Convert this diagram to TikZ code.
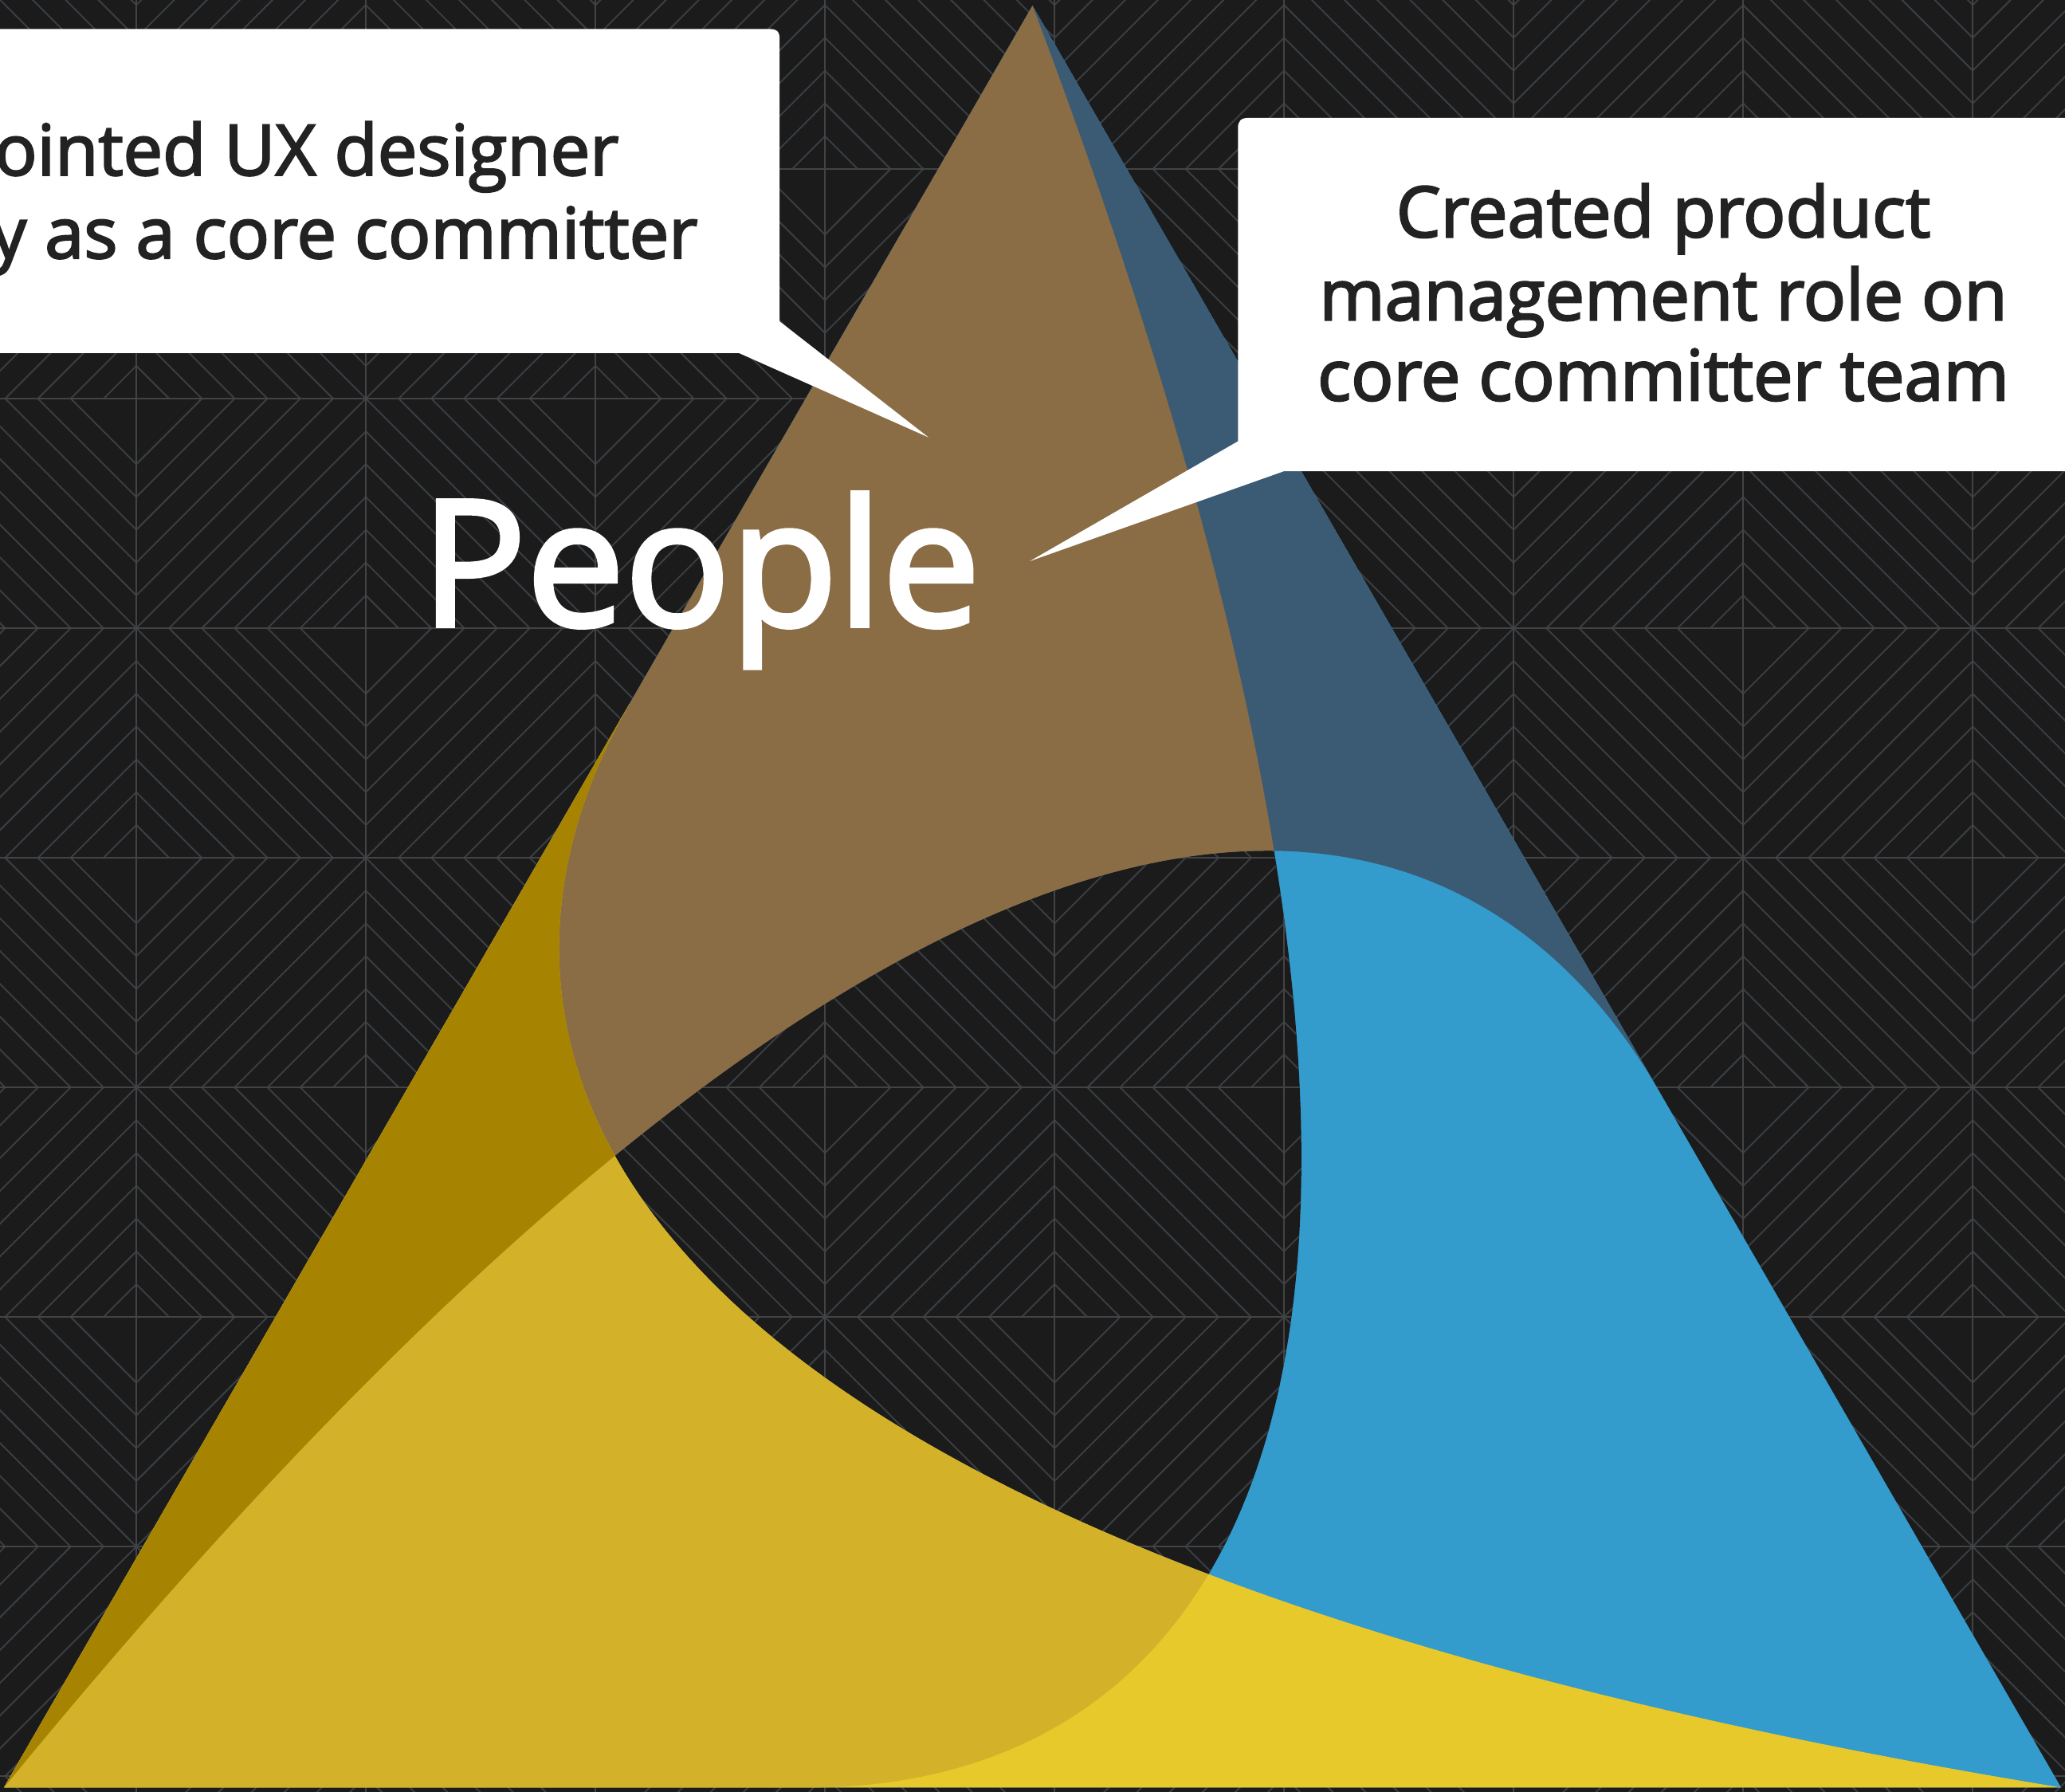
\documentclass[tikz,border=0pt]{standalone}
\usepackage{fontspec}
\setmainfont{Open Sans}
\newfontfamily\sbfont{Open Sans}[FakeBold=2.6]
\definecolor{bgc}{HTML}{1B1B1B}
\definecolor{gridc}{HTML}{434343}
\definecolor{diagc}{HTML}{393E43}
\definecolor{brownc}{HTML}{8A6C45}
\definecolor{dblue}{HTML}{3B5A73}
\definecolor{bluec}{HTML}{349BCD}
\definecolor{byel}{HTML}{E8C92B}
\definecolor{myel}{HTML}{D3B22A}
\definecolor{dgold}{HTML}{A68301}
\definecolor{textc}{HTML}{222222}
\newcommand\gL{(784,4.3) .. controls (1198,1100) and (900,1357) .. (615,1357) -- (3,1357) -- cycle}
\newcommand\gR{(784,4.3) .. controls (1198,1100) and (900,1357) .. (615,1357) -- (1565,1357) -- cycle}
\newcommand\tri{(784,4.3) -- (3,1357) -- (1565,1357) -- cycle}
\newcommand\bgpattern{%
  \fill[bgc] (-5,-5) rectangle (1573,1365);
  \foreach \i in {-1,...,8}{\foreach \j in {-1,...,7}{%
    \pgfmathsetmacro\xo{103.5+174.3*\i}%
    \pgfmathsetmacro\yo{128.3+174.3*\j}%
    \pgfmathtruncatemacro\pty{mod(\i+\j+10,2)}%
    \begin{scope}
      \clip (\xo,\yo) rectangle ++(174.3,174.3);
      \ifnum\pty=1
        \foreach \k in {2,...,13}{\draw[diag] ({\xo+\k*24.9-300},{\yo+300}) -- ({\xo+\k*24.9+300},{\yo-300});}
      \else
        \foreach \k in {1,...,12}{\draw[diag] ({\xo+\k*24.9-174.3-300},{\yo-300}) -- ({\xo+\k*24.9-174.3+300},{\yo+300});}
      \fi
    \end{scope}
  }}%
  \foreach \i in {-1,...,8}{\draw[gridl] ({103.5+174.3*\i},-5) -- ++(0,1370);}%
  \foreach \j in {-1,...,7}{\draw[gridl] (-5,{128.3+174.3*\j}) -- ++(1578,0);}%
}
\begin{document}
\begin{tikzpicture}[x=1pt,y=-1pt,
  diag/.style={draw=diagc,line width=1.2pt},
  gridl/.style={draw=gridc,line width=1.3pt},
  rA/.style={rotate around={120:(784,906.1)}},
  rB/.style={rotate around={240:(784,906.1)}},
  ctext/.style={font=\sbfont\fontsize{53.5}{62}\selectfont,text=textc,inner sep=0pt},
  callout/.style={fill=white}]
\useasboundingbox (0,0) rectangle (1568,1360);
\begin{scope}
  \clip (0,0) rectangle (1568,1360);
  \bgpattern
  % colours right of gamma, painted over the whole triangle
  \fill[bluec] \tri;
  \begin{scope}\clip[rA] \gR; \fill[dblue] \tri; \end{scope}
  \begin{scope}\clip[rB] \gR; \fill[byel] \tri; \end{scope}
  % colours left of gamma
  \begin{scope}
    \clip \gL;
    \begin{scope}\clip[rA] \gL; \clip[rB] \gL; \bgpattern \end{scope}
    \begin{scope}\clip[rA] \gR; \fill[brownc] \tri; \end{scope}
    \begin{scope}\clip[rB] \gR; \fill[myel] \tri; \end{scope}
    \begin{scope}\clip[rA] \gR; \clip[rB] \gR; \fill[dgold] \tri; \end{scope}
  \end{scope}
  % callouts
  \path[callout] (-10,22) -- (584,22) .. controls (590,22) and (592,24) .. (592,30)
     -- (592,244) -- (705,332) -- (561,268) -- (-10,268) -- cycle;
  \path[callout] (1580,89.5) -- (948,89.5) .. controls (942,89.5) and (940,92) .. (940,97.5)
     -- (940,335) -- (782,426) -- (975,357.7) -- (1580,357.7) -- cycle;
\end{scope}
\node[ctext,anchor=base east] (l1) at (470,133) {ointed UX designer};
\node[ctext,anchor=base east] (l2) at (530,196) {y as a core committer};
\node[ctext,anchor=base] (r1) at (1263,180) {Created product};
\node[ctext,anchor=base] (r2) at (1263,243) {management role on};
\node[ctext,anchor=base] (r3) at (1263,304) {core committer team};
\node[anchor=base,inner sep=0pt,text=white,font=\sbfont\fontsize{133}{150}\selectfont] (people) at (532,475) {People};
\end{tikzpicture}
\end{document}
